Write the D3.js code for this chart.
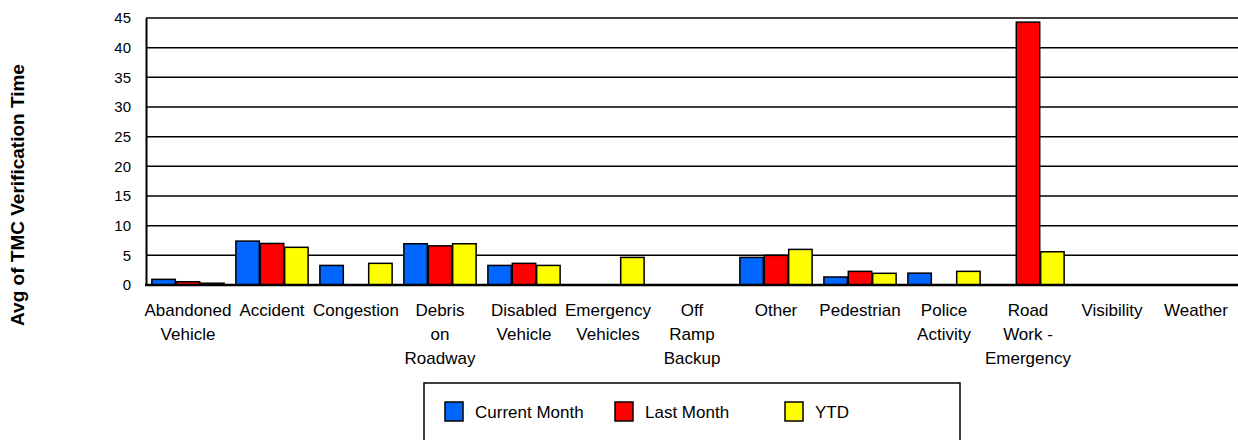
<!DOCTYPE html>
<html>
<head>
<meta charset="utf-8">
<script src="https://cdn.jsdelivr.net/npm/d3@7"></script>
<style>
  body { margin: 0; background: #fff; }
  svg { display: block; font-family: "Liberation Sans", Arial, sans-serif; }
</style>
</head>
<body>
<svg width="1238" height="440"></svg>
<script>
var categories = ["Abandoned Vehicle", "Accident", "Congestion", "Debris on Roadway",
                  "Disabled Vehicle", "Emergency Vehicles", "Off Ramp Backup", "Other",
                  "Pedestrian", "Police Activity", "Road Work - Emergency", "Visibility", "Weather"];

// how each category label wraps under the axis
var categoryLines = [["Abandoned", "Vehicle"], ["Accident"], ["Congestion"], ["Debris", "on", "Roadway"],
                     ["Disabled", "Vehicle"], ["Emergency", "Vehicles"], ["Off", "Ramp", "Backup"], ["Other"],
                     ["Pedestrian"], ["Police", "Activity"], ["Road", "Work -", "Emergency"], ["Visibility"], ["Weather"]];

var series = ["Current Month", "Last Month", "YTD"];
var colors = ["#0066ff", "#ff0000", "#ffff00"];

var currentMonth = [0.95, 7.4, 3.3, 6.95, 3.3, 0, 0, 4.65, 1.35, 2.0, 0, 0, 0];
var lastMonth    = [0.55, 7.0, 0, 6.6, 3.65, 0, 0, 5.0, 2.3, 0, 44.3, 0, 0];
var ytd          = [0.3, 6.35, 3.65, 6.95, 3.3, 4.65, 0, 6.0, 1.97, 2.3, 5.6, 0, 0];

var yTicks = [0, 5, 10, 15, 20, 25, 30, 35, 40, 45];

var values = [currentMonth, lastMonth, ytd];

var svg = d3.select("svg");
// note: "top" is taken by window.top, so plot edges get their own names
var plotL = 146, plotR = 1238, plotT = 18, plotB = 285;

var x0 = d3.scaleBand()
           .domain(categories)
           .range([plotL, plotR])
           .paddingInner(0.14)
           .paddingOuter(0.07);

var x1 = d3.scaleBand()
           .domain(series)
           .range([0, x0.bandwidth()])
           .paddingInner(0.04);

var y = d3.scaleLinear()
          .domain([0, 45])
          .range([plotB, plotT]);

// gridlines
svg.append("g")
  .selectAll("line")
  .data(yTicks)
  .enter().append("line")
    .attr("x1", plotL)
    .attr("x2", plotR)
    .attr("y1", d => y(d))
    .attr("y2", d => y(d))
    .attr("stroke", "#000")
    .attr("stroke-width", 1.5);

// y axis labels
var yAxis = svg.append("g")
  .attr("transform", "translate(" + plotL + ",0)")
  .call(d3.axisLeft(y).tickValues(yTicks).tickSize(0).tickPadding(15));
yAxis.select(".domain").attr("stroke", "#000").attr("stroke-width", 2);
yAxis.selectAll("text")
  .attr("font-size", 15)
  .attr("font-family", "Liberation Sans, Arial, sans-serif")
  .attr("fill", "#000");

// bars
var groups = svg.append("g")
  .selectAll("g")
  .data(categories)
  .enter().append("g")
    .attr("transform", d => "translate(" + x0(d) + ",0)");

groups.selectAll("rect")
  .data((d, i) => series.map((s, j) => ({ s: s, j: j, v: values[j][i] })).filter(e => e.v > 0))
  .enter().append("rect")
    .attr("x", d => x1(d.s))
    .attr("width", x1.bandwidth())
    .attr("y", d => y(d.v))
    .attr("height", d => y(0) - y(d.v))
    .attr("fill", d => colors[d.j])
    .attr("stroke", "#000")
    .attr("stroke-width", 1.5);

// x axis line
svg.append("line")
  .attr("x1", plotL - 1)
  .attr("x2", plotR)
  .attr("y1", y(0))
  .attr("y2", y(0))
  .attr("stroke", "#000")
  .attr("stroke-width", 2.5);

// category labels
var labels = svg.append("g")
  .selectAll("text")
  .data(categories)
  .enter().append("text")
    .attr("x", d => x0(d) + x0.bandwidth() / 2)
    .attr("y", 316)
    .attr("text-anchor", "middle")
    .attr("font-size", 17)
    .attr("fill", "#000");

labels.selectAll("tspan")
  .data((d, i) => categoryLines[i])
  .enter().append("tspan")
    .attr("x", function() { return this.parentNode.getAttribute("x"); })
    .attr("dy", (d, i) => i === 0 ? 0 : 24)
    .text(d => d);

// y title
svg.append("text")
  .attr("transform", "translate(17,195) rotate(-90)")
  .attr("text-anchor", "middle")
  .attr("dy", "0.35em")
  .attr("font-size", 19)
  .attr("font-weight", "bold")
  .attr("fill", "#000")
  .text("Avg of TMC Verification Time");

// legend
var legend = svg.append("g");
legend.append("rect")
  .attr("x", 424)
  .attr("y", 383)
  .attr("width", 536)
  .attr("height", 70)
  .attr("fill", "#fff")
  .attr("stroke", "#000")
  .attr("stroke-width", 1.5);

var item = legend.selectAll(".item")
  .data(series)
  .enter().append("g")
    .attr("class", "item")
    .attr("transform", (d, i) => "translate(" + (445 + i * 170) + ",402)");

item.append("rect")
  .attr("width", 18)
  .attr("height", 19)
  .attr("fill", (d, i) => colors[i])
  .attr("stroke", "#000")
  .attr("stroke-width", 1.5);

item.append("text")
  .attr("x", 30)
  .attr("y", 10)
  .attr("dy", "0.35em")
  .attr("font-size", 17)
  .attr("fill", "#000")
  .text(d => d);
</script>
</body>
</html>
